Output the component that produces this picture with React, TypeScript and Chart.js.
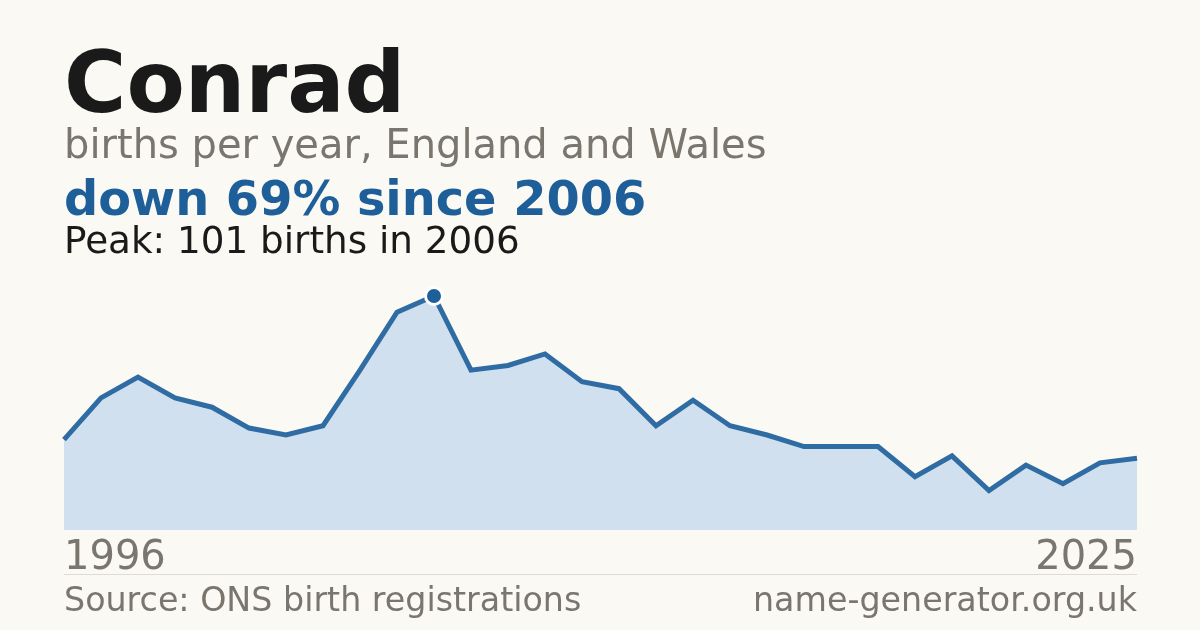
import React, { useEffect, useRef } from "react";
import { Chart, registerables } from "chart.js";

Chart.register(...registerables);

const years: string[] = [
  "1996", "1997", "1998", "1999", "2000", "2001", "2002", "2003", "2004", "2005",
  "2006", "2007", "2008", "2009", "2010", "2011", "2012", "2013", "2014", "2015",
  "2016", "2017", "2018", "2019", "2020", "2021", "2022", "2023", "2024", "2025",
];
const births: number[] = [
  39, 57, 66, 57, 53, 44, 41, 45, 69, 94,
  101, 69, 71, 76, 64, 61, 45, 56, 45, 41,
  36, 36, 36, 23, 32, 17, 28, 20, 29, 31,
];
const peakIndex = births.indexOf(Math.max(...births));

const FONT = '"DejaVu Sans", sans-serif';
const BG = "#faf9f4";
const GREY = "#7a766e";
const BLUE = "#1f5f99";

function text(
  content: string,
  size: number,
  baseline: number,
  color: string,
  weight: number | string,
  side: "left" | "right" = "left"
): React.ReactElement {
  const style: React.CSSProperties = {
    position: "absolute",
    top: baseline - 0.846 * size,
    fontSize: size,
    lineHeight: `${size}px`,
    fontFamily: FONT,
    fontWeight: weight as any,
    color,
    whiteSpace: "nowrap",
  };
  if (side === "left") style.left = 64;
  else style.right = 63;
  return <div style={style}>{content}</div>;
}

export default function App() {
  const ref = useRef<HTMLCanvasElement | null>(null);

  useEffect(() => {
    if (!ref.current) return;
    const chart = new Chart(ref.current, {
      type: "line",
      data: {
        labels: years,
        datasets: [
          {
            data: births,
            borderColor: "#2f6ca3",
            borderWidth: 5,
            backgroundColor: "#d0e0ef",
            fill: "origin",
            tension: 0,
            clip: false as any,
            pointRadius: (ctx: any) => (ctx.dataIndex === peakIndex ? 8.5 : 0),
            pointHoverRadius: 0,
            pointBackgroundColor: BLUE,
            pointBorderColor: "#ffffff",
            pointBorderWidth: 3,
          },
        ],
      },
      options: {
        animation: false,
        responsive: false,
        devicePixelRatio: 1,
        layout: { padding: { left: 64, right: 63, top: 296, bottom: 100 } },
        plugins: { legend: { display: false }, tooltip: { enabled: false } },
        scales: {
          x: { display: false },
          y: { display: false, min: 0, max: 101 },
        },
      },
    });
    return () => chart.destroy();
  }, []);

  return (
    <div
      style={{
        position: "fixed",
        left: 0,
        top: 0,
        width: 1200,
        height: 630,
        background: BG,
        overflow: "hidden",
      }}
    >
      <canvas
        ref={ref}
        width={1200}
        height={630}
        style={{ position: "absolute", left: 0, top: 0, width: 1200, height: 630 }}
      />
      {text("Conrad", 85, 112, "#1a1a1a", 700)}
      {text("births per year, England and Wales", 40, 158, GREY, 400)}
      {text("down 69% since 2006", 47.8, 215, BLUE, 700)}
      {text("Peak: 101 births in 2006", 37.3, 254, "#1a1a1a", 400)}
      {text(years[0], 40, 569, GREY, 400)}
      {text(years[years.length - 1], 40, 569, GREY, 400, "right")}
      <div
        style={{
          position: "absolute",
          left: 64,
          top: 574,
          width: 1073,
          height: 1,
          background: "#dedbd4",
        }}
      />
      {text("Source: ONS birth registrations", 33.3, 611, GREY, 400)}
      {text("name-generator.org.uk", 33.3, 611, GREY, 400, "right")}
    </div>
  );
}
